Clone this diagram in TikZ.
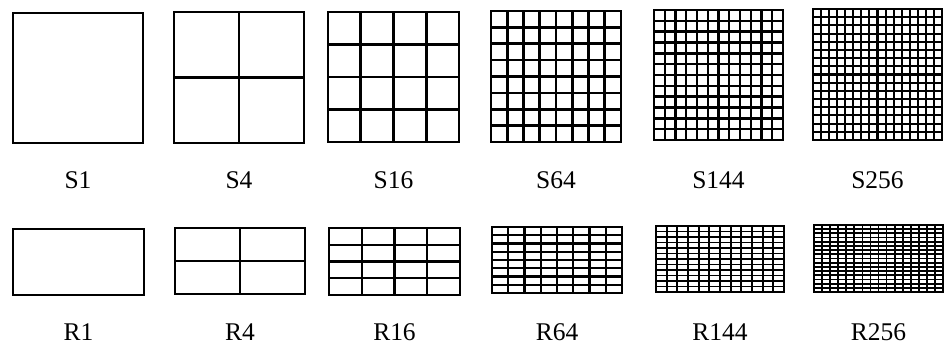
\documentclass[tikz,border=0pt]{standalone}
\usepackage{fontspec}
\setmainfont{Liberation Serif}
\usetikzlibrary{positioning}
\tikzset{
  frame/.style = {draw=black, line width=1.6pt},
  cell/.style  = {draw=black, line width=#1},
  tag/.style   = {font=\fontsize{14.5}{16}\selectfont, inner sep=0pt, anchor=center},
}

\begin{document}
\begin{tikzpicture}[x=0.02cm, y=-0.02cm]
\useasboundingbox (0,0) rectangle (944,351);

% left/top/width/height/cells per side/label/line width/label height
\foreach \x/\y/\w/\h/\n/\lab/\lw/\ly in {
    13/13/130/130/1/S1/1.6pt/180,  174/12/130/131/2/S4/1.6pt/180,
    328/12/131/130/4/S16/1.6pt/180, 491/11/130/131/8/S64/1.5pt/180,
    654/10/129/130/12/S144/1.4pt/180, 813/9/129/131/16/S256/1.2pt/180,
    13/229/131/66/1/R1/1.6pt/332,  175/228/130/66/2/R4/1.5pt/332,
    329/228/131/67/4/R16/1.4pt/332, 492/227/130/66/8/R64/1.3pt/332,
    656/226/128/66/12/R144/1.1pt/332, 814/225/129/67/16/R256/1pt/332}{
  \foreach \k in {0,...,\n}{
    \draw[cell=\lw] (\x+\k*\w/\n, \y) -- ++(0, \h);
    \draw[cell=\lw] (\x, \y+\k*\h/\n) -- ++(\w, 0);
  }
  \draw[frame] (\x, \y) rectangle ++(\w, \h);
  \node[tag] (lab\lab) at (\x+\w/2, \ly) {\lab};
}

\end{tikzpicture}
\end{document}
